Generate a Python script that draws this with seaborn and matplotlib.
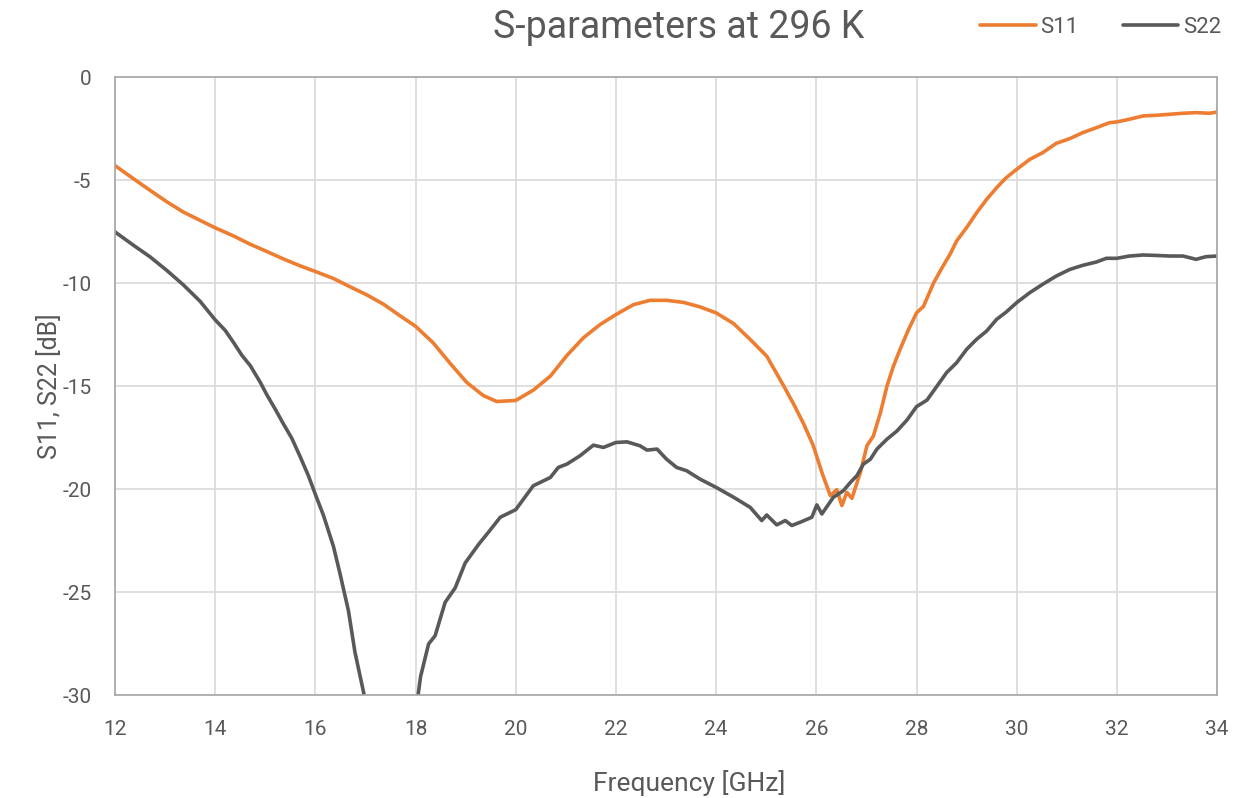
import matplotlib.pyplot as plt
import pandas as pd
import seaborn as sns

# S11 readings (frequency in GHz, magnitude in dB)
s11_freq = [12.0, 12.37, 12.7, 13.03, 13.36, 13.7, 14.0, 14.37, 14.7, 15.03, 15.36, 15.7,
            16.0, 16.36, 16.69, 17.03, 17.36, 17.69, 18.0, 18.35, 18.69, 19.02, 19.35, 19.62,
            20.0, 20.35, 20.69, 21.02, 21.35, 21.68, 22.0, 22.35, 22.68, 23.01, 23.35, 23.68,
            24.0, 24.35, 24.68, 25.01, 25.35, 25.55, 25.75, 25.94, 26.11, 26.28, 26.41, 26.51,
            26.61, 26.71, 26.88, 27.01, 27.14, 27.28, 27.41, 27.54, 27.67, 27.84, 28.0, 28.14,
            28.34, 28.5, 28.67, 28.8, 29.0, 29.2, 29.4, 29.6, 29.79, 30.0, 30.26, 30.52, 30.79,
            31.06, 31.32, 31.59, 31.85, 32.0, 32.25, 32.52, 32.78, 33.05, 33.32, 33.58, 33.85, 34.0]
s11_db = [-4.3, -4.94, -5.5, -6.05, -6.55, -6.96, -7.32, -7.72, -8.12, -8.47, -8.83, -9.17,
          -9.44, -9.78, -10.18, -10.58, -11.03, -11.59, -12.1, -12.9, -13.9, -14.82, -15.46, -15.75,
          -15.7, -15.2, -14.52, -13.52, -12.66, -12.02, -11.53, -11.05, -10.84, -10.84, -10.94, -11.16,
          -11.45, -11.97, -12.74, -13.55, -15.0, -15.89, -16.85, -17.9, -19.19, -20.32, -20.03, -20.8,
          -20.16, -20.45, -19.19, -17.9, -17.42, -16.29, -15.0, -14.03, -13.23, -12.26, -11.45, -11.13,
          -10.0, -9.3, -8.6, -7.96, -7.31, -6.59, -5.94, -5.37, -4.89, -4.48, -4.0, -3.67, -3.22,
          -2.99, -2.7, -2.46, -2.22, -2.18, -2.05, -1.89, -1.86, -1.81, -1.76, -1.73, -1.76, -1.7]

# S22 readings (dips below the -30 dB axis limit between 17 and 18 GHz)
s22_freq = [12.0, 12.37, 12.7, 13.03, 13.36, 13.7, 14.0, 14.2, 14.37, 14.53, 14.7, 14.9,
            15.03, 15.2, 15.36, 15.53, 15.7, 15.86, 16.0, 16.16, 16.36, 16.49, 16.66, 16.79,
            16.96, 17.2, 17.5, 17.8, 18.05, 18.1, 18.26, 18.39, 18.59, 18.79, 18.99, 19.26,
            19.46, 19.69, 20.0, 20.35, 20.69, 20.85, 21.02, 21.28, 21.55, 21.75, 22.0, 22.22,
            22.48, 22.62, 22.82, 23.01, 23.21, 23.41, 23.68, 24.0, 24.35, 24.68, 24.91, 25.01,
            25.21, 25.38, 25.51, 25.68, 25.91, 26.01, 26.11, 26.34, 26.54, 26.68, 26.81, 26.94,
            27.08, 27.21, 27.41, 27.61, 27.81, 28.0, 28.21, 28.41, 28.6, 28.8, 29.0, 29.2, 29.4,
            29.6, 29.79, 30.0, 30.26, 30.52, 30.79, 31.06, 31.32, 31.59, 31.79, 32.0, 32.25,
            32.52, 32.78, 33.05, 33.32, 33.58, 33.78, 34.0]
s22_db = [-7.52, -8.17, -8.73, -9.38, -10.08, -10.89, -11.79, -12.3, -12.9, -13.5, -14.01, -14.82,
          -15.42, -16.13, -16.83, -17.54, -18.45, -19.35, -20.26, -21.27, -22.78, -24.09, -25.91, -27.92,
          -29.84, -33.0, -35.0, -33.0, -30.0, -29.1, -27.52, -27.12, -25.5, -24.8, -23.59, -22.68,
          -22.08, -21.37, -21.0, -19.84, -19.44, -18.95, -18.79, -18.39, -17.87, -17.98, -17.74, -17.71,
          -17.9, -18.11, -18.06, -18.55, -18.95, -19.11, -19.52, -19.92, -20.4, -20.89, -21.53, -21.26,
          -21.74, -21.53, -21.77, -21.61, -21.37, -20.77, -21.21, -20.4, -20.08, -19.68, -19.35, -18.79,
          -18.55, -18.06, -17.58, -17.18, -16.65, -16.0, -15.68, -15.0, -14.35, -13.87, -13.22, -12.73, -12.33,
          -11.76, -11.41, -10.95, -10.47, -10.06, -9.66, -9.34, -9.14, -8.98, -8.8, -8.8, -8.69,
          -8.64, -8.66, -8.69, -8.69, -8.85, -8.72, -8.69]

x_ticks = list(range(12, 35, 2))
y_ticks = [0, -5, -10, -15, -20, -25, -30]

sns.set_style("white")
plt.rcParams['font.family'] = ['Roboto', 'DejaVu Sans']
text_col = '#595959'

df11 = pd.DataFrame({'f': s11_freq, 'db': s11_db})
df22 = pd.DataFrame({'f': s22_freq, 'db': s22_db})

fig = plt.figure(figsize=(12.38, 7.98), dpi=100)
ax = fig.add_axes([0.0929, 0.129, 0.8902, 0.7745])

sns.lineplot(data=df11, x='f', y='db', ax=ax, color='#ED7D31', linewidth=2.6, sort=False, label='S11')
sns.lineplot(data=df22, x='f', y='db', ax=ax, color='#595959', linewidth=2.6, sort=False, label='S22')

ax.set_xlim(12, 34)
ax.set_ylim(-30, 0)
ax.set_xticks(x_ticks)
ax.set_yticks(y_ticks)
ax.set_yticklabels([str(v) for v in y_ticks])
ax.grid(True, color='#D9D9D9', linewidth=1.2)
for sp in ax.spines.values():
    sp.set_color('#A6A6A6')
    sp.set_linewidth(1.2)
ax.tick_params(axis='both', length=0, labelsize=15, labelcolor=text_col)
ax.tick_params(axis='x', pad=18)
ax.tick_params(axis='y', pad=17)
ax.set_xlabel('Frequency [GHz]', fontsize=19, color=text_col, labelpad=22)
ax.xaxis.label.set_x(0.521)
ax.set_ylabel('S11, S22 [dB]', fontsize=18, color=text_col, labelpad=0)

ax.get_legend().remove()
handles, labels = ax.get_legend_handles_labels()
fig.legend(handles, labels, loc='center right', bbox_to_anchor=(0.99, 0.966), ncol=2,
           frameon=False, fontsize=16, labelcolor=text_col, handlelength=2.5,
           handletextpad=0.2, columnspacing=2.0, borderaxespad=0.0, borderpad=0.2)

fig.text(0.548, 0.965, 'S-parameters at 296 K', ha='center', va='center', fontsize=27, color=text_col)

plt.savefig('out.png', dpi=100)
plt.close()
